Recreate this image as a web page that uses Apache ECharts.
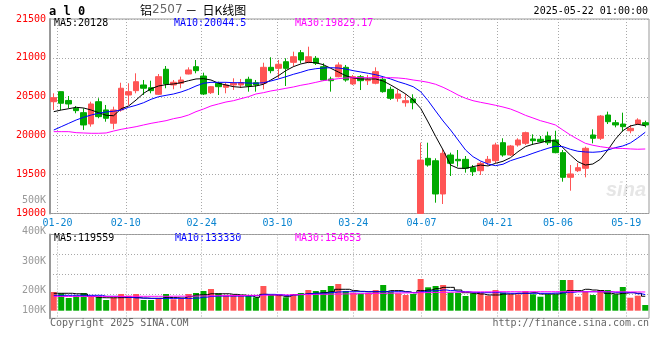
<!DOCTYPE html>
<html><head><meta charset="utf-8">
<script src="https://cdn.jsdelivr.net/npm/echarts@6/dist/echarts.min.js"></script>
<style>html,body{margin:0;padding:0;background:#fff}#c{width:660px;height:360px}</style>
</head><body><div id="c"></div>
<script>
const dates = ['01-17','01-20','01-21','01-22','01-23','01-24','01-27','02-05','02-06','02-07',
'02-10','02-11','02-12','02-13','02-14','02-17','02-18','02-19','02-20','02-21',
'02-24','02-25','02-26','02-27','02-28','03-03','03-04','03-05','03-06','03-07',
'03-10','03-11','03-12','03-13','03-14','03-17','03-18','03-19','03-20','03-21',
'03-24','03-25','03-26','03-27','03-28','03-31','04-01','04-02','04-03','04-07',
'04-08','04-09','04-10','04-11','04-14','04-15','04-16','04-17','04-18','04-21',
'04-22','04-23','04-24','04-25','04-28','04-29','04-30','05-06','05-07','05-08',
'05-09','05-12','05-13','05-14','05-15','05-16','05-19','05-20','05-21','05-22'];
const opens = [20437,20566,20453,20352,20296,20151,20437,20331,20160,20331,
20523,20579,20652,20617,20532,20854,20652,20674,20793,20887,
20767,20553,20674,20622,20652,20652,20725,20681,20674,20879,
20866,20951,20943,21067,20943,20995,20887,20729,20758,20879,
20665,20758,20707,20674,20725,20596,20481,20424,20472,19000,
19709,19678,19251,19752,19696,19696,19589,19550,19653,19678,
19910,19752,19881,19902,19958,19954,19996,19945,19782,19465,
19550,19581,20009,19967,20266,20167,20150,20064,20150,20167];
const closes = [20489,20417,20408,20322,20138,20408,20245,20224,20331,20610,
20566,20694,20610,20579,20759,20665,20687,20716,20845,20836,
20536,20630,20630,20652,20674,20681,20639,20652,20879,20836,
20918,20866,21015,20973,21015,20931,20716,20707,20909,20716,
20758,20707,20725,20823,20566,20481,20536,20450,20424,19687,
19623,19251,19774,19645,19678,19581,19537,19645,19696,19881,
19752,19868,19945,20039,19936,19923,19910,19782,19465,19508,
19589,19838,19967,20253,20180,20138,20116,20095,20202,20138];
const lows = [20331,20330,20352,20288,20074,20116,20224,20180,20083,20309,
20395,20545,20523,20545,20523,20610,20597,20610,20789,20802,
20523,20536,20523,20545,20588,20613,20566,20566,20596,20802,
20738,20639,20887,20931,20931,20909,20707,20566,20751,20694,
20652,20587,20652,20661,20553,20459,20437,20373,20339,19000,
19602,19139,19122,19482,19602,19525,19482,19495,19623,19645,
19730,19739,19859,19881,19881,19906,19881,19774,19409,19293,
19533,19465,19902,19945,20150,20108,20052,20031,20138,20108];
const highs = [20545,20570,20510,20382,20352,20437,20481,20395,20373,20681,
20674,20802,20716,20707,20793,20896,20716,20759,20879,20973,
20810,20639,20694,20681,20738,20729,20758,20716,20938,21008,
20973,20995,21080,21101,21144,21024,20931,20758,20943,20909,
20780,20780,20780,20879,20758,20630,20596,20536,20532,19910,
19910,19709,19825,19782,19816,19739,19623,19666,19739,19910,
19967,19881,19967,20052,20018,19996,20052,20064,19816,19623,
19649,19859,20082,20266,20309,20202,20296,20138,20224,20193];
const ma5 = [20309,20330,20347,20365,20356,20330,20296,20262,20257,20347,
20382,20459,20545,20604,20639,20656,20665,20681,20707,20729,
20733,20716,20674,20652,20630,20622,20630,20639,20661,20716,
20771,20836,20887,20922,20943,20938,20913,20866,20819,20771,
20742,20729,20729,20729,20703,20652,20596,20536,20459,20352,
20176,19992,19816,19623,19581,19581,19602,19623,19611,19645,
19671,19717,19794,19859,19890,19910,19936,19932,19846,19752,
19666,19623,19636,19697,19816,19954,20064,20125,20147,20128];
const ma10 = [20073,20116,20159,20202,20237,20266,20288,20305,20314,20330,
20365,20391,20424,20468,20501,20519,20536,20562,20596,20639,
20674,20686,20686,20686,20681,20681,20677,20674,20681,20703,
20729,20758,20789,20815,20845,20861,20870,20874,20870,20857,
20836,20819,20802,20784,20758,20729,20694,20665,20630,20566,
20450,20318,20189,20073,19945,19816,19730,19675,19636,19615,
19633,19679,19710,19739,19774,19807,19838,19864,19859,19825,
19800,19791,19787,19794,19816,19846,19868,19906,19971,20044.5];
const ma30 = [20052,20052,20052,20039,20035,20031,20031,20035,20060,20082,
20099,20116,20138,20159,20176,20193,20219,20237,20266,20309,
20343,20382,20408,20433,20450,20476,20501,20536,20553,20575,
20591,20609,20626,20648,20665,20686,20707,20720,20733,20742,
20746,20746,20746,20746,20746,20746,20742,20733,20716,20703,
20686,20661,20622,20575,20523,20481,20450,20429,20411,20391,
20369,20343,20305,20262,20228,20193,20167,20138,20073,20009,
19954,19902,19877,19859,19846,19838,19836,19830,19826,19829.17];
const volumes = [154500,143800,105000,124000,146300,124000,121500,88400,107400,138000,
124000,138000,88400,88400,102500,138000,94200,96700,138000,146300,
162800,179300,143800,124000,129700,124000,124000,110700,204100,129700,
124000,110700,138000,146300,171100,162800,171100,204100,220700,162800,
148800,140500,148800,171100,212400,157000,143800,129700,138000,262000,
193400,204100,212400,148800,148800,121500,143800,148800,124000,171100,
148800,135500,135500,162800,135500,115700,135500,135500,253700,253700,
115700,157000,129700,171100,171100,135500,195900,107400,124000,47100];
const volMa5 = [144000,144000,144000,140000,138000,118000,108000,107000,107000,108000,
110000,108000,104000,102000,102000,110000,108000,105000,118000,130000,
132000,140000,140000,140000,135000,130000,125000,111000,135000,130000,
125000,116000,132000,135000,140000,145000,150000,157000,177000,177000,
166000,160000,157000,157000,157000,166000,166000,157000,149000,166000,
171000,182000,193000,193000,171000,149000,144000,138000,130000,130000,
138000,138000,144000,144000,149000,138000,138000,138000,149000,166000,
166000,177000,171000,166000,144000,138000,144000,149000,144000,119559];
const volMa10 = [127000,127000,127000,127000,127000,127000,127000,119000,119000,115000,
110000,106000,104000,102000,102000,102000,102000,102000,102000,105000,
112000,118000,121000,121000,121000,121000,121000,125000,135000,135000,
133000,125000,130000,135000,140000,144000,144000,150000,155000,157000,
157000,157000,157000,157000,157000,157000,157000,155000,149000,157000,
163000,166000,171000,166000,160000,157000,152000,149000,149000,149000,
146000,144000,144000,144000,144000,144000,144000,146000,149000,152000,
157000,157000,157000,157000,157000,152000,152000,149000,140000,133330];
const volMa30 = [118000,118000,118000,118000,118000,118000,118000,118000,118000,118000,
119000,119000,119000,119000,119000,119000,120000,120000,120000,121000,
122000,123000,124000,125000,126000,126000,127000,127000,128000,129000,
130000,131000,132000,133000,134000,135000,136000,137000,138000,139000,
140000,141000,142000,143000,144000,145000,146000,147000,148000,149000,
150000,151000,152000,153000,154000,155000,155000,156000,156000,157000,
157000,157000,157000,157000,157000,157000,157000,157000,157000,157000,
157000,157000,157000,157000,156000,156000,156000,155000,155000,154653];
const xTickLabels = ['01-20','02-10','02-24','03-10','03-24','04-07','04-21','05-06','05-19'];
const priceMin = 19000, priceMax = 21500, priceStep = 500;
const volTickLabels = ['500K','400K','300K','200K','100K'];
const volTickY = [200.7, 231, 261.7, 290.7, 310];

const RED = '#ff5555', GREEN = '#00aa00', GRID = '#a8a8a8', FRAME = '#999';
const MONO = '"DejaVu Sans Mono", monospace';
const tickSet = new Set(xTickLabels);
const showTick = (i, v) => tickSet.has(v);
const dotted = {show: true, interval: showTick, lineStyle: {color: GRID, type: [1, 2], width: 1}};

const chart = echarts.init(document.getElementById('c'), null, {renderer: 'canvas'});
const lineS = (name, data, color, xi, yi, step) => ({
  name, type: 'line', data, xAxisIndex: xi, yAxisIndex: yi, symbol: 'none', step: step || false,
  lineStyle: {color, width: 1}, silent: true, z: 3
});
const txt = (text, x, y, fill, extra) => Object.assign({
  type: 'text', x, y, silent: true,
  style: Object.assign({text, fill, font: '10px ' + MONO, textVerticalAlign: 'middle'}, extra || {})
});

chart.setOption({
  animation: false,
  backgroundColor: '#fff',
  grid: [
    {left: 50, right: 11, top: 19, height: 194.5, show: true, borderColor: FRAME, borderWidth: 1},
    {left: 50, right: 11, top: 234.5, height: 83.8, show: true, borderColor: FRAME, borderWidth: 1},
    {left: 50, right: 11, top: 234.5, height: 76.2},
    {left: 50, right: 11, top: 234.5, height: 60}
  ],
  xAxis: [
    {type: 'category', gridIndex: 0, data: dates, boundaryGap: true, show: false},
    {type: 'category', gridIndex: 0, data: dates, boundaryGap: false, position: 'bottom',
     axisLine: {show: false}, axisTick: {show: false},
     axisLabel: {interval: showTick, color: '#0a84d0', fontFamily: 'DejaVu Sans Mono', fontSize: 10, margin: 5},
     splitLine: dotted},
    {type: 'category', gridIndex: 1, data: dates, boundaryGap: false,
     axisLine: {show: false}, axisTick: {show: false}, axisLabel: {show: false}, splitLine: dotted},
    {type: 'category', gridIndex: 2, data: dates, boundaryGap: true, show: false},
    {type: 'value', gridIndex: 3, min: 0, max: 1, show: false}
  ],
  yAxis: [
    {type: 'value', gridIndex: 0, min: priceMin, max: priceMax, interval: priceStep,
     axisLine: {show: true, lineStyle: {color: FRAME, width: 2}}, axisTick: {show: false},
     axisLabel: {color: '#ff0000', fontFamily: 'DejaVu Sans Mono', fontSize: 10, margin: 4,
                 padding: [0, 0, 5, 0], formatter: v => String(v)},
     splitLine: {show: true, lineStyle: {color: GRID, type: [1, 2], width: 1}}},
    {type: 'value', gridIndex: 1, min: 0, max: 1,
     axisLine: {show: true, lineStyle: {color: FRAME, width: 2}}, axisTick: {show: false},
     axisLabel: {show: false}, splitLine: {show: false}},
    {type: 'value', gridIndex: 2, min: 0, max: 630000, show: false},
    {type: 'value', gridIndex: 3, min: 0, max: 60, interval: 20, axisLine: {show: false},
     axisTick: {show: false}, axisLabel: {show: false},
     splitLine: {show: true, lineStyle: {color: GRID, type: [1, 2], width: 1}}}
  ],
  series: [
    {type: 'candlestick', xAxisIndex: 0, yAxisIndex: 0, barWidth: 6, clip: true, silent: true,
     data: dates.map((d, i) => [opens[i], closes[i], lows[i], highs[i]]),
     itemStyle: {color: RED, color0: GREEN, borderColor: RED, borderColor0: GREEN, borderWidth: 1}},
    lineS('MA5', ma5, '#000000', 0, 0),
    lineS('MA10', ma10, '#0000ff', 0, 0),
    lineS('MA30', ma30, '#ff00ff', 0, 0),
    {type: 'bar', xAxisIndex: 3, yAxisIndex: 2, barWidth: 6, silent: true,
     data: volumes.map((v, i) => ({value: v, itemStyle: {color: closes[i] >= opens[i] ? RED : GREEN}}))},
    lineS('VMA5', volMa5, '#000000', 3, 2, 'middle'),
    lineS('VMA10', volMa10, '#0000ff', 3, 2, 'middle'),
    lineS('VMA30', volMa30, '#ff00ff', 3, 2, 'middle')
  ],
  graphic: {elements: [
    {type: 'text', x: 606, y: 190, z: -10, silent: true,
     style: {text: 'sina', fill: '#e6e6e6', font: 'italic bold 20px "Liberation Sans", Arial', textVerticalAlign: 'middle'}},
    txt('a l 0', 49, 11.5, '#000', {font: 'bold 12px ' + MONO}),
    {type: 'text', x: 140, y: 10, silent: true,
     style: {text: '{a|铝}{b|2507}{a| －  日K线图}', textVerticalAlign: 'middle',
       rich: {a: {fill: '#000', font: '12px "Noto Sans CJK SC"'}, b: {fill: '#666', font: '12px "DejaVu Sans"'}}}},
    txt('2025-05-22 01:00:00', 648, 11.7, '#000', {textAlign: 'right'}),
    txt('MA5:20128', 54, 23.7, '#000'),
    txt('MA10:20044.5', 174, 23.7, '#0000ff'),
    txt('MA30:19829.17', 295, 23.7, '#ff00ff'),
    txt('MA5:119559', 54, 238, '#000'),
    txt('MA10:133330', 175, 238, '#0000ff'),
    txt('MA30:154653', 295, 238, '#ff00ff'),
    ...volTickLabels.map((t, k) => txt(t, 46, volTickY[k], '#999', {textAlign: 'right'})),
    txt('Copyright 2025 SINA.COM', 50, 323.5, '#666'),
    txt('http://finance.sina.com.cn', 649, 323.5, '#666', {textAlign: 'right'})
  ]}
});
</script>
</body></html>
